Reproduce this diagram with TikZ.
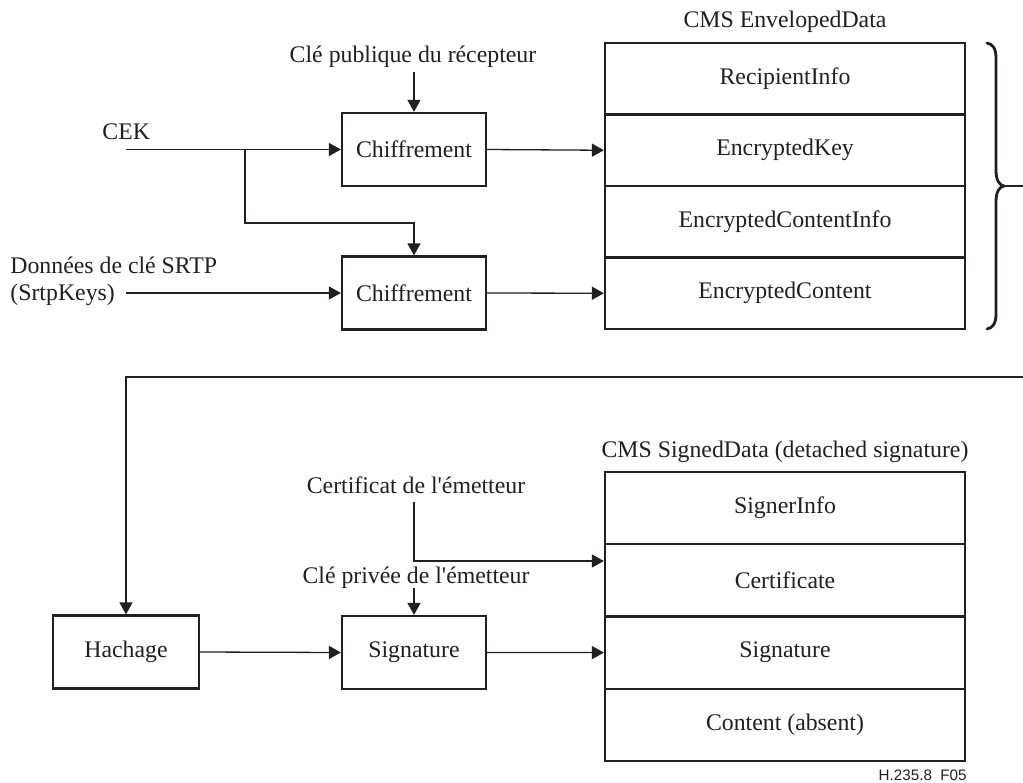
\documentclass[tikz,border=0pt]{standalone}
\usepackage{fontspec}
\setmainfont{Liberation Serif}[Ligatures=TeXOff]
\newfontfamily\tagsans{Liberation Sans}
\usetikzlibrary{arrows.meta}
\definecolor{ink}{RGB}{35,31,32}
\begin{document}
\begin{tikzpicture}[x=0.5pt,y=-0.5pt,
  every node/.style={inner sep=0pt, text=ink, font=\fontsize{11.9pt}{13.5pt}\selectfont},
  link/.style={draw=ink, line width=0.65pt},
  flow/.style={link, -{Triangle[length=6pt,width=6.5pt]}},
  proc/.style={draw=ink, line width=1.1pt, minimum width=72pt, minimum height=36.5pt},
  envrow/.style={draw=ink, line width=1.1pt, minimum width=180pt, minimum height=35.75pt},
  sigrow/.style={draw=ink, line width=1.1pt, minimum width=180pt, minimum height=36.125pt}]
\useasboundingbox[fill=white] (0,0) rectangle (1023,782);

% ---- enveloping part ----
\node[anchor=base] (envtitle) at (785,27) {CMS EnvelopedData};
\node[envrow] (e1) at (785,78.75) {RecipientInfo};
\node[envrow] (e2) at (785,150.25) {EncryptedKey};
\node[envrow] (e3) at (785,221.75) {EncryptedContentInfo};
\node[envrow] (e4) at (785,293.25) {EncryptedContent};

\node[proc] (c1) at (414,149.5) {Chiffrement};
\node[proc] (c2) at (414,293) {Chiffrement};

\node[anchor=base] (pub) at (413,62) {Clé publique du récepteur};
\coordinate (pubend) at (414,72);
\draw[flow] (pubend) -- (c1.north);

\node[anchor=base west] (cek) at (102,139) {CEK};
\coordinate (cekend) at (126,149.5);
\coordinate (split) at (245,149.5);
\draw[flow] (cekend) -- (c1.west);
\draw[flow] (split) |- (414,223) -- (c2.north);

\node[anchor=base west, align=left] (srtp) at (10,300) {Données de clé SRTP\\(SrtpKeys)};
\coordinate (srtpend) at (126,293);
\draw[flow] (srtpend) -- (c2.west);

\draw[flow] (c1.east) -- (e2.west);
\draw[flow] (c2.east) -- (e4.west);

% curly brace grouping the four fields
\coordinate (bracetip) at (1004,186);
\coordinate (braceout) at (1023,186);
\draw[draw=ink, line width=1.4pt, line cap=round]
  (987,43) .. controls (993,44) and (996,49) .. (996,58) -- (996,170)
  .. controls (996,180) and (999,185) .. (bracetip)
  .. controls (999,187) and (996,192) .. (996,202) -- (996,314)
  .. controls (996,323) and (993,328) .. (987,329);
\draw[link] (bracetip) -- (braceout);

% ---- signing part ----
\coordinate (loopin) at (1023,377);
\node[proc, minimum width=73pt] (hash) at (126,652) {Hachage};
\draw[flow] (loopin) -- (126,377) -- (hash.north);

\node[anchor=base] (sdtitle) at (785,457) {CMS SignedData (detached signature)};
\node[sigrow] (s1) at (785,508.1) {SignerInfo};
\node[sigrow] (s2) at (785,580.4) {Certificate};
\node[sigrow] (s3) at (785,652.6) {Signature};
\node[sigrow] (s4) at (785,724.9) {Content (absent)};

\node[proc] (sig) at (414,652.5) {Signature};
\draw[flow] (hash.east) -- (sig.west);
\draw[flow] (sig.east) -- (s3.west);

\node[anchor=base] (cert) at (416,493) {Certificat de l'émetteur};
\coordinate (certend) at (414,502);
\draw[flow] (certend) |- (s2.west |- 0,561);

\node[anchor=base] (priv) at (416,583) {Clé privée de l'émetteur};
\coordinate (privend) at (414,588);
\draw[flow] (privend) -- (sig.north);

\node[anchor=base east, font=\tagsans\fontsize{7.6pt}{9pt}\selectfont] (tag) at (967,780) {H.235.8\ \ F05};
\end{tikzpicture}
\end{document}
